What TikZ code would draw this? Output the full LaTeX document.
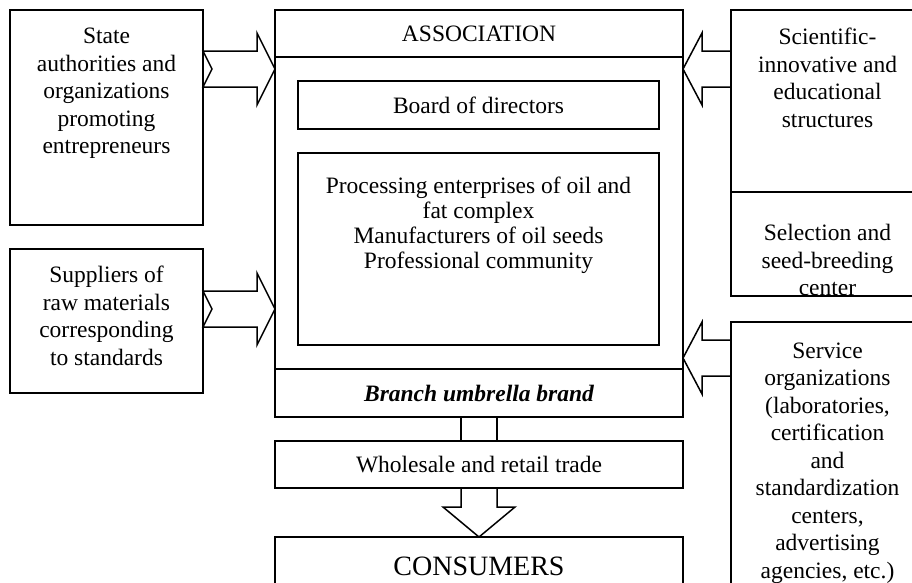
\documentclass[tikz,border=0pt]{standalone}
\usepackage{fontspec}
\setmainfont{Liberation Serif}
\begin{document}
\begin{tikzpicture}[x=1pt,y=-1pt,
	box/.style={draw, line width=1.5pt, rectangle, inner sep=0pt, outer sep=0pt, anchor=north west, align=center, font=\fontsize{23.5}{27.5}\selectfont},
	txt/.style={align=center, inner sep=0pt, font=\fontsize{23.5}{27.5}\selectfont},
	blockarrow/.style={draw, line width=1.5pt, line join=miter}]
		\clip (0,0) rectangle (912,582);
		
		\node [box, minimum width=193pt, minimum height=215pt] (state) at (10,10) {};
		\node [txt] (statetext) at (106.5,93.5) {State\\authorities and\\organizations\\promoting\\entrepreneurs};
		
		\node [box, minimum width=193pt, minimum height=144pt] (suppliers) at (10,249) {};
		\node [txt] (supplierstext) at (106.5,316) {Suppliers of\\raw materials\\corresponding\\to standards};
		
		\node [box, minimum width=408pt, minimum height=47pt] (assochead) at (275,10) {ASSOCIATION};
		\node [box, minimum width=408pt, minimum height=312pt] (assoc) at (275,57) {};
		\node [box, minimum width=408pt, minimum height=48pt] (brand) at (275,369) {\bfseries\itshape Branch umbrella brand};
		
		\node [box, minimum width=361pt, minimum height=48pt] (board) at (298,81) {Board of directors};
		\node [box, minimum width=361pt, minimum height=192pt] (members) at (298,153) {};
		\node [txt, font=\fontsize{23.5}{25}\selectfont] (memberstext) at (478.5,225) {Processing enterprises of oil and\\fat complex\\Manufacturers of oil seeds\\Professional community};
		
		\node [box, minimum width=408pt, minimum height=47pt] (trade) at (275,441) {Wholesale and retail trade};
		\node [box, minimum width=408pt, minimum height=59pt, font=\fontsize{28}{30}\selectfont] (consumers) at (275,537) {CONSUMERS};
		
		\node [box, minimum width=193pt, minimum height=182pt] (science) at (731,10) {};
		\node [txt] (sciencetext) at (827.5,78) {Scientific-\\innovative and\\educational\\structures};
		
		\node [box, minimum width=193pt, minimum height=104pt] (selection) at (731,192) {};
		\begin{scope}
			\clip (selection.north west) rectangle (selection.south east);
			\node [txt] (selectiontext) at (827.5,260) {Selection and\\seed-breeding\\center};
		\end{scope}
		
		\node [box, minimum width=193pt, minimum height=280pt] (service) at (731,322) {};
		\node [txt] (servicetext) at (827.5,463) {Service\\organizations\\(laboratories,\\certification\\and\\standardization\\centers,\\advertising\\agencies, etc.)};
		
		% arrow tips on the association box
		\coordinate (in1) at (275,69);
		\coordinate (in2) at (275,309);
		\coordinate (in3) at (683,69);
		\coordinate (in4) at (683,358);
		
		\draw [blockarrow] (state.east |- in1) ++(0,-18) -- ++(54,0) -- ++(0,-18) -- (in1) -- ++(-18,36) -- ++(0,-18) -- ++(-54,0) -- ++(9,-18) -- cycle;
		\draw [blockarrow] (suppliers.east |- in2) ++(0,-18) -- ++(54,0) -- ++(0,-18) -- (in2) -- ++(-18,36) -- ++(0,-18) -- ++(-54,0) -- ++(9,-18) -- cycle;
		\draw [blockarrow] (science.west |- in3) ++(0,-18) -- ++(-29,0) -- ++(0,-18) -- (in3) -- ++(19,36) -- ++(0,-18) -- ++(29,0);
		\draw [blockarrow] (service.west |- in4) ++(0,-18) -- ++(-29,0) -- ++(0,-18) -- (in4) -- ++(19,36) -- ++(0,-18) -- ++(29,0);
		
		\draw [blockarrow] ([xshift=-18pt]brand.south) -- ([xshift=-18pt]trade.north);
		\draw [blockarrow] ([xshift=18pt]brand.south) -- ([xshift=18pt]trade.north);
		
		\draw [blockarrow] ([xshift=-18pt]trade.south) -- ++(0,19) -- ++(-18,0) -- (consumers.north) -- ++(36,-30) -- ++(-18,0) -- ([xshift=18pt]trade.south);
		\end{tikzpicture}
\end{document}
